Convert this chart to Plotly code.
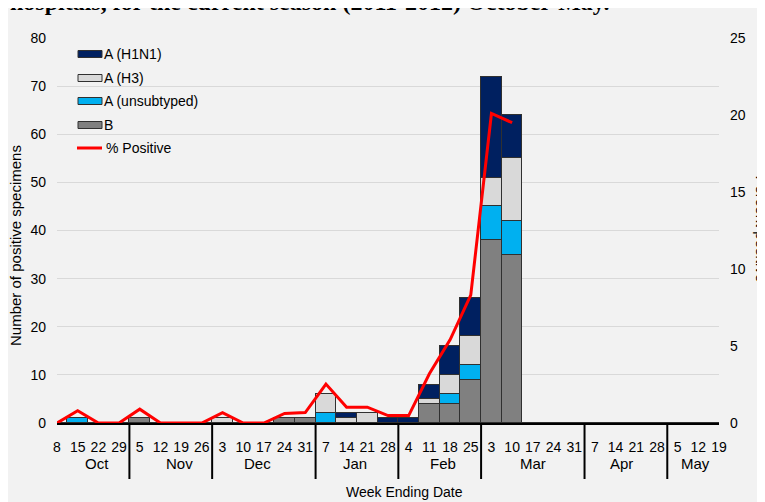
import plotly.graph_objects as go

# ---------------- data ----------------
days = ["8", "15", "22", "29",
        "5", "12", "19", "26",
        "3", "10", "17", "24", "31",
        "7", "14", "21", "28",
        "4", "11", "18", "25",
        "3", "10", "17", "24", "31",
        "7", "14", "21", "28",
        "5", "12", "19"]
months = ["Oct", "Nov", "Dec", "Jan", "Feb", "Mar", "Apr", "May"]
weeks_per_month = [4, 4, 5, 4, 4, 5, 4, 3]

b_vals = [0, 0, 0, 0, 1, 0, 0, 0, 0, 0, 0, 1, 1, 0, 0, 0, 0, 0, 4, 4, 9, 38, 35,
          0, 0, 0, 0, 0, 0, 0, 0, 0, 0]
unsub_vals = [0, 1, 0, 0, 0, 0, 0, 0, 0, 0, 0, 0, 0, 2, 0, 0, 0, 0, 0, 2, 3, 7, 7,
              0, 0, 0, 0, 0, 0, 0, 0, 0, 0]
h3_vals = [0, 0, 0, 0, 0, 0, 0, 0, 1, 0, 0, 0, 0, 4, 1, 2, 0, 0, 1, 4, 6, 6, 13,
           0, 0, 0, 0, 0, 0, 0, 0, 0, 0]
h1n1_vals = [0, 0, 0, 0, 0, 0, 0, 0, 0, 0, 0, 0, 0, 0, 1, 0, 1, 1, 3, 6, 8, 21, 9,
             0, 0, 0, 0, 0, 0, 0, 0, 0, 0]
pct_positive = [0, 0.8, 0, 0, 0.9, 0, 0, 0, 0.67, 0, 0, 0.62, 0.68, 2.53, 1.03, 1.03,
                0.48, 0.48, 3.2, 5.4, 8.3, 20.1, 19.5]

# month label centres (in week-index units), as placed in the original layout
month_label_pos = [1.93, 5.94, 9.71, 14.4, 18.66, 23.0, 27.3, 30.84]

# ---------------- geometry helpers (page pixels; figure sits at 8px offset) ----------------
W, H = 765, 502
L, R, T, B = 49, 54, 30, 87
PW, PH = W - L - R, H - T - B
OFF = 8


def px(x):
    return (x - OFF - L) / PW


def py(y):
    return (H - B - (y - OFF)) / PH


n = len(days)
xs = list(range(n))

FONT = "Liberation Sans, Arial, sans-serif"
EDGE = "#303030"
colors = {"H1N1": "#002060", "H3": "#d9d9d9", "unsub": "#00b0f0", "B": "#808080"}

fig = go.Figure()
for name, vals, key in [("B", b_vals, "B"), ("A (unsubtyped)", unsub_vals, "unsub"),
                        ("A (H3)", h3_vals, "H3"), ("A (H1N1)", h1n1_vals, "H1N1")]:
    fig.add_trace(go.Bar(x=xs, y=vals, name=name, width=1,
                         marker=dict(color=colors[key], line=dict(color=EDGE, width=1)),
                         showlegend=False))

fig.add_trace(go.Scatter(x=xs[:len(pct_positive)], y=pct_positive, yaxis="y2",
                         mode="lines", line=dict(color="#ff0000", width=3),
                         name="% Positive", showlegend=False))

shapes = []
annotations = []

# month separators and labels
start = 0
for m, k, pos in zip(months, weeks_per_month, month_label_pos):
    end = start + k
    annotations.append(dict(text=m, x=pos, xref="x", y=py(463), yref="paper",
                            showarrow=False, font=dict(family=FONT, size=15, color="#000"),
                            xanchor="center", yanchor="middle"))
    if end < n:
        xb = (end - 0.5) / (n - 1)
        shapes.append(dict(type="line", xref="paper", yref="paper",
                           x0=xb, x1=xb, y0=0, y1=py(479),
                           line=dict(color="#000", width=2)))
    start = end

annotations.append(dict(text="Week Ending Date", x=px(405), y=py(492), xref="paper",
                        yref="paper", showarrow=False, xanchor="center", yanchor="middle",
                        font=dict(family=FONT, size=14, color="#000")))
annotations.append(dict(text="Number of positive specimens", x=px(16), y=py(246),
                        xref="paper", yref="paper", showarrow=False, textangle=-90,
                        xanchor="center", yanchor="middle",
                        font=dict(family=FONT, size=15, color="#000")))
annotations.append(dict(text="Percent positive", x=px(772), y=py(229),
                        xref="paper", yref="paper", showarrow=False, textangle=90,
                        xanchor="right", yanchor="middle",
                        font=dict(family=FONT, size=15, color="#000")))
annotations.append(dict(text="<b>hospitals, for the current season (2011-2012) October-May.</b>",
                        x=px(8), y=py(2), xref="paper", yref="paper", showarrow=False,
                        xanchor="left", yanchor="middle",
                        font=dict(family="Liberation Serif, Times New Roman, serif", size=24,
                                  color="#000")))

# manual legend
legend_items = [("A (H1N1)", colors["H1N1"], 54), ("A (H3)", colors["H3"], 78),
                ("A (unsubtyped)", colors["unsub"], 101), ("B", colors["B"], 125)]
for label, col, yc in legend_items:
    shapes.append(dict(type="rect", xref="paper", yref="paper",
                       x0=px(78), x1=px(102), y0=py(yc + 3.5), y1=py(yc - 3.5),
                       fillcolor=col, line=dict(color=EDGE, width=1)))
    annotations.append(dict(text=label, x=px(102), y=py(yc), xref="paper", yref="paper",
                            showarrow=False, xanchor="left", yanchor="middle",
                            font=dict(family=FONT, size=14, color="#000")))
shapes.append(dict(type="line", xref="paper", yref="paper", x0=px(77), x1=px(102),
                   y0=py(148), y1=py(148), line=dict(color="#ff0000", width=3)))
annotations.append(dict(text="% Positive", x=px(104), y=py(148), xref="paper", yref="paper",
                        showarrow=False, xanchor="left", yanchor="middle",
                        font=dict(family=FONT, size=14, color="#000")))

fig.update_layout(
    width=W, height=H,
    margin=dict(l=L, r=R, t=T, b=B, pad=0),
    paper_bgcolor="#f2f2f2", plot_bgcolor="#f2f2f2",
    barmode="stack", bargap=0,
    font=dict(family=FONT, size=14, color="#000"),
    xaxis=dict(range=[0, n - 1], tickmode="array", tickvals=xs, ticktext=days,
               showgrid=False, zeroline=False, showline=True, linecolor="#000",
               linewidth=2, ticks="", ticklabelstandoff=10,
               tickfont=dict(family=FONT, size=14, color="#000")),
    yaxis=dict(range=[0, 80], dtick=10, showgrid=True, gridcolor="#d9d9d9", gridwidth=1,
               zeroline=False, showline=False, ticks="", ticklabelstandoff=10,
               tickfont=dict(family=FONT, size=14, color="#000")),
    yaxis2=dict(range=[0, 25], dtick=5, overlaying="y", side="right", showgrid=False,
                zeroline=False, showline=False, ticks="", ticklabelstandoff=10,
                tickfont=dict(family=FONT, size=14, color="#000")),
    shapes=shapes, annotations=annotations,
)

fig.write_html("out.html")
